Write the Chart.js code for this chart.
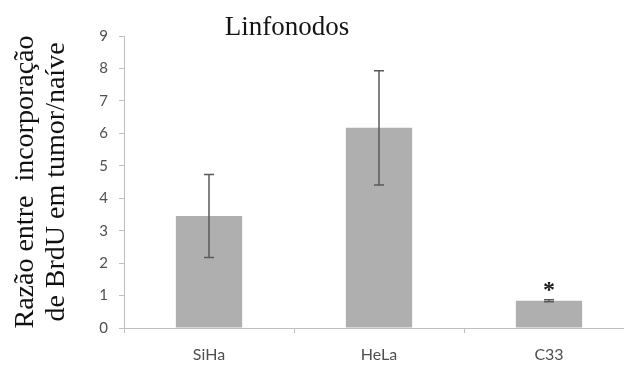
<!DOCTYPE html>
<html>
<head>
<meta charset="utf-8">
<script src="https://cdn.jsdelivr.net/npm/chart.js@4.4.1/dist/chart.umd.min.js"></script>
<style>
  html, body { margin: 0; padding: 0; overflow: hidden; background: #ffffff; }
  canvas { display: block; }
</style>
</head>
<body>
<canvas id="chart" width="640" height="368"></canvas>
<script>
// Tumour lines and BrdU incorporation ratio (tumour / naive), lymph nodes
const categories = ['SiHa', 'HeLa', 'C33'];
const ratios = [3.45, 6.17, 0.84];
const errors = [1.28, 1.76, 0.03];
const significance = ['', '', '*'];
const chartTitle = 'Linfonodos';
const yTitle = ['Razão entre  incorporação', 'de BrdU em tumor/naíve'];
const yMin = 0;
const yMax = 9;
const yStep = 1;

const axisColor = '#bfbfbf';
const tickColor = '#4f4f4f';

// Error bars (mean ± error) and significance markers drawn on top of the bars
const errorBarPlugin = {
  id: 'errorBars',
  afterDatasetsDraw(chart) {
    const ctx = chart.ctx;
    const yScale = chart.scales.y;
    const meta = chart.getDatasetMeta(0);
    ctx.save();
    meta.data.forEach((bar, i) => {
      const x = bar.x;
      const top = yScale.getPixelForValue(ratios[i] + errors[i]);
      const bottom = yScale.getPixelForValue(ratios[i] - errors[i]);
      ctx.strokeStyle = '#5a5a5a';
      ctx.lineWidth = 1.5;
      ctx.beginPath();
      ctx.moveTo(x, top);
      ctx.lineTo(x, bottom);
      ctx.moveTo(x - 5, top);
      ctx.lineTo(x + 5, top);
      ctx.moveTo(x - 5, bottom);
      ctx.lineTo(x + 5, bottom);
      ctx.stroke();
      if (significance[i]) {
        ctx.fillStyle = '#1a1a1a';
        ctx.font = 'bold 24px "Liberation Serif"';
        ctx.textAlign = 'center';
        ctx.textBaseline = 'alphabetic';
        const m = ctx.measureText(significance[i]);
        const centre = top - 13;
        const base = centre + (m.actualBoundingBoxAscent - m.actualBoundingBoxDescent) / 2;
        ctx.fillText(significance[i], x, base);
      }
    });
    ctx.restore();
  }
};

// Chart heading
const headingPlugin = {
  id: 'heading',
  afterDraw(chart) {
    const ctx = chart.ctx;
    ctx.save();
    ctx.fillStyle = '#141414';
    ctx.font = '27px "Liberation Serif"';
    ctx.textAlign = 'center';
    ctx.textBaseline = 'alphabetic';
    ctx.fillText(chartTitle, 287, 35);
    ctx.restore();
  }
};

new Chart(document.getElementById('chart'), {
  type: 'bar',
  data: {
    labels: categories,
    datasets: [{
      data: ratios,
      backgroundColor: '#afafaf',
      borderWidth: 0,
      categoryPercentage: 1.0,
      barPercentage: 0.39
    }]
  },
  options: {
    responsive: false,
    animation: false,
    devicePixelRatio: 1,
    layout: { padding: { top: 36, right: 6, bottom: 0, left: 0 } },
    plugins: {
      legend: { display: false },
      tooltip: { enabled: false },
      title: { display: false }
    },
    scales: {
      x: {
        grid: {
          display: true,
          drawOnChartArea: false,
          drawTicks: true,
          tickLength: 5,
          color: axisColor,
          offset: true
        },
        border: { display: true, color: axisColor, width: 1 },
        ticks: {
          color: tickColor,
          font: { family: 'Lato', size: 16 },
          padding: 12
        },
        afterFit(scale) { scale.height = 40; }
      },
      y: {
        min: yMin,
        max: yMax,
        grid: {
          display: true,
          drawOnChartArea: false,
          drawTicks: true,
          tickLength: 5,
          color: axisColor
        },
        border: { display: true, color: axisColor, width: 1 },
        ticks: {
          stepSize: yStep,
          color: tickColor,
          font: { family: 'Lato', size: 15 },
          padding: 11
        },
        title: {
          display: true,
          text: yTitle,
          color: '#111111',
          font: { family: '"Liberation Serif"', size: 28, lineHeight: 1.107 },
          padding: { top: 10, bottom: 0 }
        },
        afterFit(scale) { scale.width = 124; }
      }
    }
  },
  plugins: [errorBarPlugin, headingPlugin]
});
</script>
</body>
</html>
